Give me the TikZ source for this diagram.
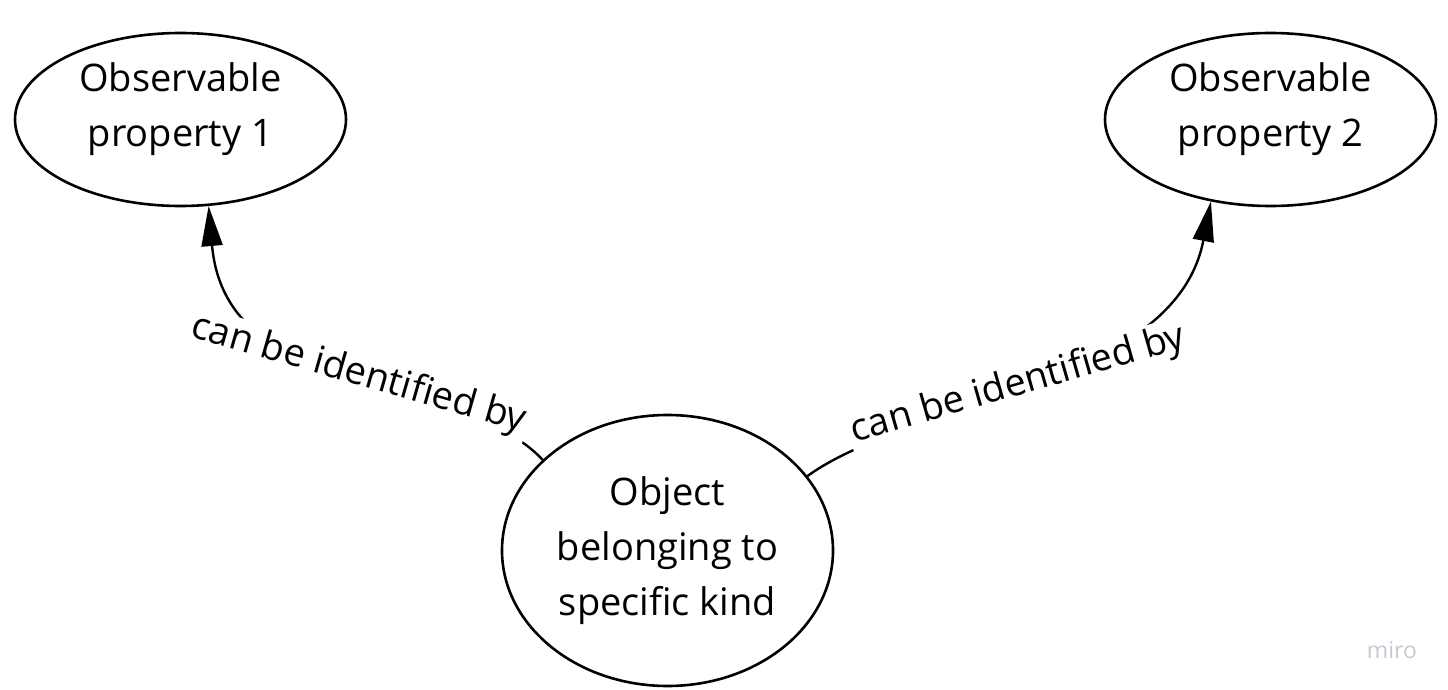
\documentclass[tikz,border=0pt]{standalone}
\usepackage{fontspec}
\setmainfont{Open Sans}
\definecolor{mirogray}{RGB}{200, 200, 212}
\usepackage{tikz}
\usetikzlibrary{arrows.meta}
\usetikzlibrary{shapes.geometric}

\begin{document}
\begin{tikzpicture}[x=0.5pt, y=0.5pt,
        bubble/.style={draw, ellipse, line width=1.3pt, inner sep=0pt, align=center, minimum width=165.5pt, font=\fontsize{19}{27.5}\selectfont},
        link/.style={line width=1.2pt, -{Triangle[length=20pt, width=10.5pt]}},
        linklabel/.style={fill=white, inner sep=1.5pt, font=\fontsize{19}{23}\selectfont}]
        \useasboundingbox (0,0) rectangle (1448,-690);

        % Observable properties
        \node[bubble, minimum height=86.5pt, text depth=14.5pt] (prop1) at (180.5,-119.5) {Observable\\property 1};
        \node[bubble, minimum height=86.5pt, text depth=14.5pt] (prop2) at (1270.5,-119.5) {Observable\\property 2};

        % Object
        \node[bubble, minimum height=135.5pt] (obj) at (667.5,-550.5) {Object\\belonging to\\specific kind};

        % Links
        \draw[link] (obj.144) to[out=133, in=-85, out distance=60pt, in distance=100pt]
            node[linklabel, pos=0.5, xshift=3.5pt, yshift=0pt, rotate=-16] {can be identified by} (prop1.-72);
        \draw[link] (obj.28) to[out=36, in=-101, out distance=65pt, in distance=95pt]
            node[linklabel, pos=0.5, xshift=-8.5pt, yshift=-2.5pt, rotate=16] {can be identified by} (prop2.-126);

        % Watermark
        \node[text=mirogray, font=\fontsize{11.5}{13}\selectfont] (miro) at (1392,-650) {miro};
\end{tikzpicture}
\end{document}
